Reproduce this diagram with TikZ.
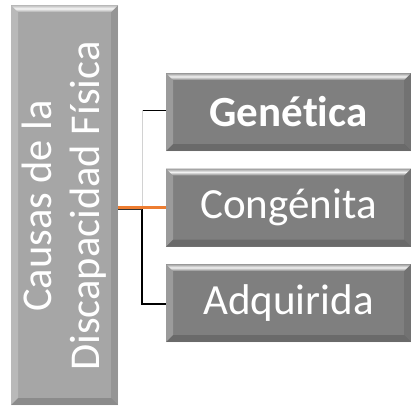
\documentclass[tikz,border=0pt]{standalone}
\usepackage{fontspec}
\setmainfont[Ligatures={NoCommon}]{Carlito}
\definecolor{boxgray}{HTML}{7F7F7F}
\definecolor{leftgray}{HTML}{A6A6A6}
\definecolor{accent}{HTML}{ED7D31}
\tikzset{
  bevel/.style={
    fill=#1, draw=none, inner sep=0pt, text=white,
    path picture={
      \coordinate (pa) at (path picture bounding box.north west);
      \coordinate (pb) at (path picture bounding box.north east);
      \coordinate (pc) at (path picture bounding box.south east);
      \coordinate (pd) at (path picture bounding box.south west);
      \fill[white, opacity=0.22] (pa) -- (pd) -- ([shift={(7pt,7pt)}]pd) -- ([shift={(7pt,-7pt)}]pa) -- cycle;
      \fill[black, opacity=0.10] (pb) -- (pc) -- ([shift={(-7pt,7pt)}]pc) -- ([shift={(-7pt,-7pt)}]pb) -- cycle;
      \fill[black, opacity=0.16] (pd) -- (pc) -- ([shift={(-7pt,7pt)}]pc) -- ([shift={(7pt,7pt)}]pd) -- cycle;
      \shade[top color=#1!80!white, bottom color=#1!95!white, middle color=white!90!#1]
        (pa) -- (pb) -- ([shift={(-7pt,-7pt)}]pb) -- ([shift={(7pt,-7pt)}]pa) -- cycle;
    }
  },
  catbox/.style={bevel=boxgray, minimum width=245pt, minimum height=78pt,
    font=\fontsize{43}{50}\selectfont},
  link/.style={line width=#1},
}
\begin{document}
\begin{tikzpicture}[x=1pt,y=1pt]
\useasboundingbox (0,0) rectangle (411,-408);
\node[bevel=leftgray, minimum width=107pt, minimum height=400pt] (root) at (64.5,-205) {};
\node[rotate=90, text=white, align=center, font=\fontsize{42.5}{48}\selectfont] (roottext) at (64.5,-206) {Causas de la\\Discapacidad Física};
\node[catbox] (gen) at (288.5,-112) {\textbf{Genética}};
\node[catbox] (con) at (288.5,-207.5) {Congénita};
\node[catbox] (adq) at (288.5,-303) {Adquirida};
\coordinate (j) at (142,-207);
\coordinate (gw) at ([yshift=2pt]gen.west);
\draw[black, link=0.8pt] (gw) -| (j);
\draw[gray!35, link=1pt] (j) -- (j |- gw);
\draw[black, link=1.8pt] (j) |- ([yshift=-1pt]adq.west);
\draw[black!80, link=1.2pt] ([yshift=-2pt]root.east |- j) -- ([yshift=-2pt]j);
\draw[accent, link=3pt] (root.east |- j) -- (con.west |- j);
\end{tikzpicture}
\end{document}
